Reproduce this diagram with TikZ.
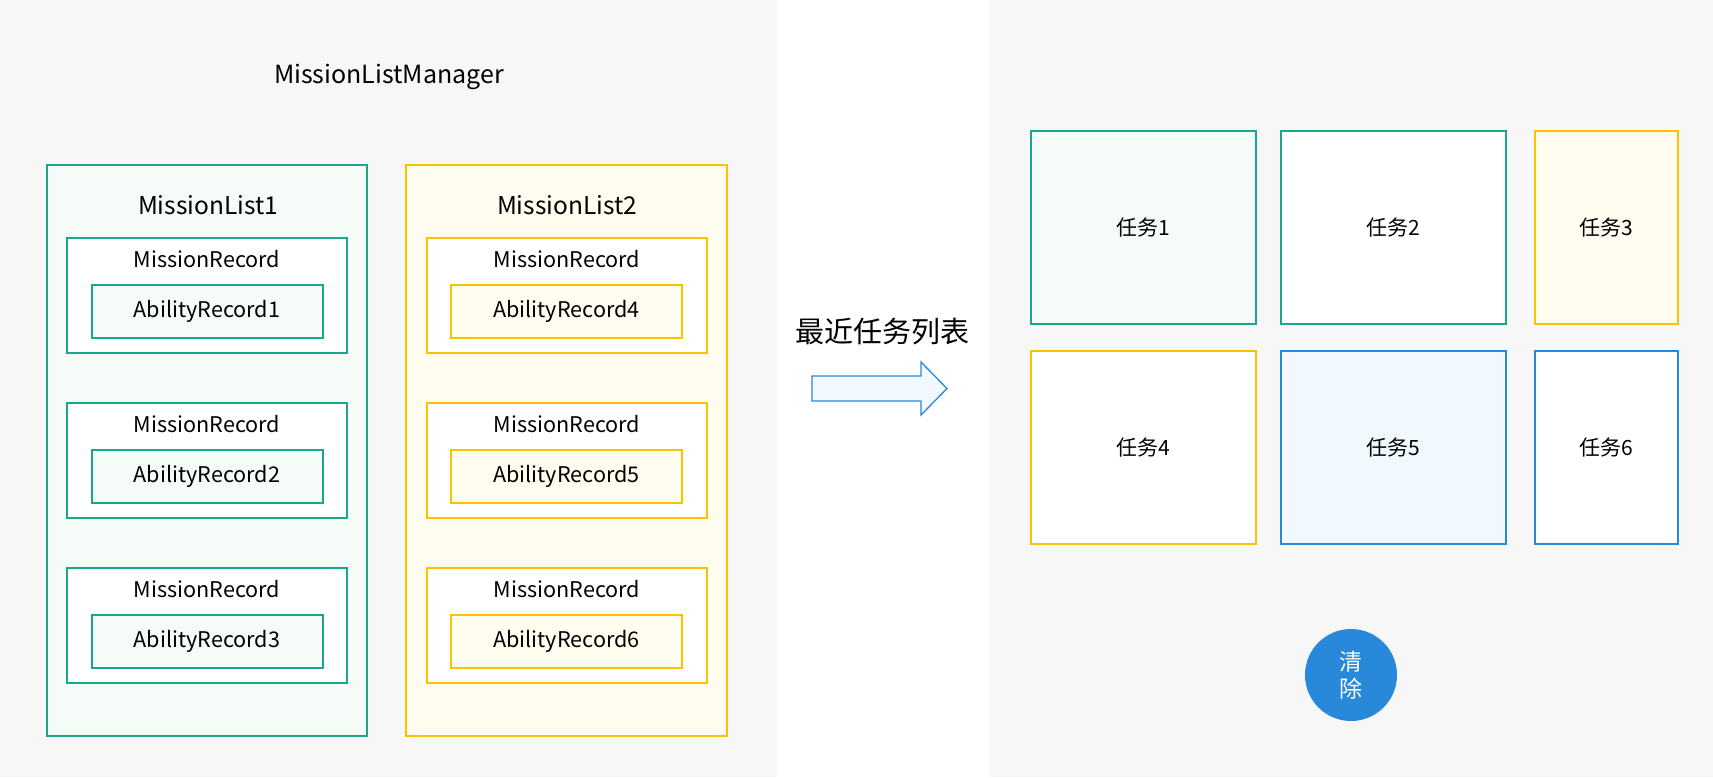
\documentclass[tikz,border=0pt]{standalone}
\usepackage{fontspec}
\setmainfont{Noto Sans CJK SC}
\usetikzlibrary{positioning}
\definecolor{mgreen}{RGB}{26,166,138}
\definecolor{mgreenfill}{RGB}{245,251,246}
\definecolor{myellow}{RGB}{255,192,0}
\definecolor{myellowfill}{RGB}{255,253,240}
\definecolor{mblue}{RGB}{40,136,218}
\definecolor{mbluefill}{RGB}{241,248,254}
\definecolor{panelgray}{RGB}{247,247,247}

\tikzset{
  greenbox/.style={rectangle,draw=mgreen,fill=mgreenfill,line width=2pt,inner sep=0pt},
  yellowbox/.style={rectangle,draw=myellow,fill=myellowfill,line width=2pt,inner sep=0pt},
  bluebox/.style={rectangle,draw=mblue,fill=mbluefill,line width=2pt,inner sep=0pt},
  bigtext/.style={font=\fontsize{24.5}{29}\selectfont},
  rectext/.style={font=\fontsize{21.6}{26}\selectfont},
  tasktext/.style={font=\fontsize{21}{25}\selectfont},
}

\begin{document}
\begin{tikzpicture}[x=1pt,y=-1pt]
    \useasboundingbox (0,0) rectangle (1713,777);
    % Sfondi
    \fill[white] (0,0) rectangle (1713,777);
    \fill[panelgray] (0,0) rectangle (777,777);
    \fill[panelgray] (990,0) rectangle (1713,777);

    % Gestore delle liste
    \node[font=\fontsize{25}{30}\selectfont] (manager) at (389,77) {MissionListManager};

    \node[greenbox,minimum width=320pt,minimum height=571pt] (listA) at (207,450.5) {};
    \node[yellowbox,minimum width=321pt,minimum height=571pt] (listB) at (566.5,450.5) {};
    \node[bigtext] (listAtitle) at (208,205) {MissionList1};
    \node[bigtext] (listBtitle) at (567,205) {MissionList2};

    % MissionList1
    \node[greenbox,fill=white,minimum width=280pt,minimum height=115pt] (recA1) at (207,295.5) {};
    \node[rectext] (recA1title) at (207,259) {MissionRecord};
    \node[greenbox,minimum width=231pt,minimum height=53pt,rectext] (abA1) at (207,311.5) {AbilityRecord1};

    \node[greenbox,fill=white,minimum width=280pt,minimum height=115pt] (recA2) at (207,460.5) {};
    \node[rectext] (recA2title) at (207,424) {MissionRecord};
    \node[greenbox,minimum width=231pt,minimum height=53pt,rectext] (abA2) at (207,476.5) {AbilityRecord2};

    \node[greenbox,fill=white,minimum width=280pt,minimum height=115pt] (recA3) at (207,625.5) {};
    \node[rectext] (recA3title) at (207,589) {MissionRecord};
    \node[greenbox,minimum width=231pt,minimum height=53pt,rectext] (abA3) at (207,641.5) {AbilityRecord3};

    % MissionList2
    \node[yellowbox,fill=white,minimum width=280pt,minimum height=115pt] (recB1) at (567,295.5) {};
    \node[rectext] (recB1title) at (567,259) {MissionRecord};
    \node[yellowbox,minimum width=231pt,minimum height=53pt,rectext] (abB1) at (566.5,311.5) {AbilityRecord4};

    \node[yellowbox,fill=white,minimum width=280pt,minimum height=115pt] (recB2) at (567,460.5) {};
    \node[rectext] (recB2title) at (567,424) {MissionRecord};
    \node[yellowbox,minimum width=231pt,minimum height=53pt,rectext] (abB2) at (566.5,476.5) {AbilityRecord5};

    \node[yellowbox,fill=white,minimum width=280pt,minimum height=115pt] (recB3) at (567,625.5) {};
    \node[rectext] (recB3title) at (567,589) {MissionRecord};
    \node[yellowbox,minimum width=231pt,minimum height=53pt,rectext] (abB3) at (566.5,641.5) {AbilityRecord6};

    % Freccia verso la lista recente
    \node[font=\fontsize{29}{34}\selectfont] (recent) at (882,332) {最近任务列表};
    \draw[draw=mblue,fill=mbluefill,line width=1.3pt,line join=miter]
        (812,376) -- (921,376) -- (921,362) -- (947,388.5) -- (921,415) -- (921,401) -- (812,401) -- cycle;

    % Lista dei task
    \node[greenbox,minimum width=225pt,minimum height=193pt,tasktext] (task1) at (1143.5,227.5) {任务1};
    \node[greenbox,fill=white,minimum width=225pt,minimum height=193pt,tasktext] (task2) at (1393.5,227.5) {任务2};
    \node[yellowbox,minimum width=143pt,minimum height=193pt,tasktext] (task3) at (1606.5,227.5) {任务3};
    \node[yellowbox,fill=white,minimum width=225pt,minimum height=193pt,tasktext] (task4) at (1143.5,447.5) {任务4};
    \node[bluebox,minimum width=225pt,minimum height=193pt,tasktext] (task5) at (1393.5,447.5) {任务5};
    \node[bluebox,fill=white,minimum width=143pt,minimum height=193pt,tasktext] (task6) at (1606.5,447.5) {任务6};

    % Pulsante
    \node[circle,fill=mblue,minimum size=92pt,inner sep=0pt,text=white,align=center,
          font=\fontsize{23}{27}\selectfont] (clear) at (1351,675) {清\\除};
\end{tikzpicture}
\end{document}
